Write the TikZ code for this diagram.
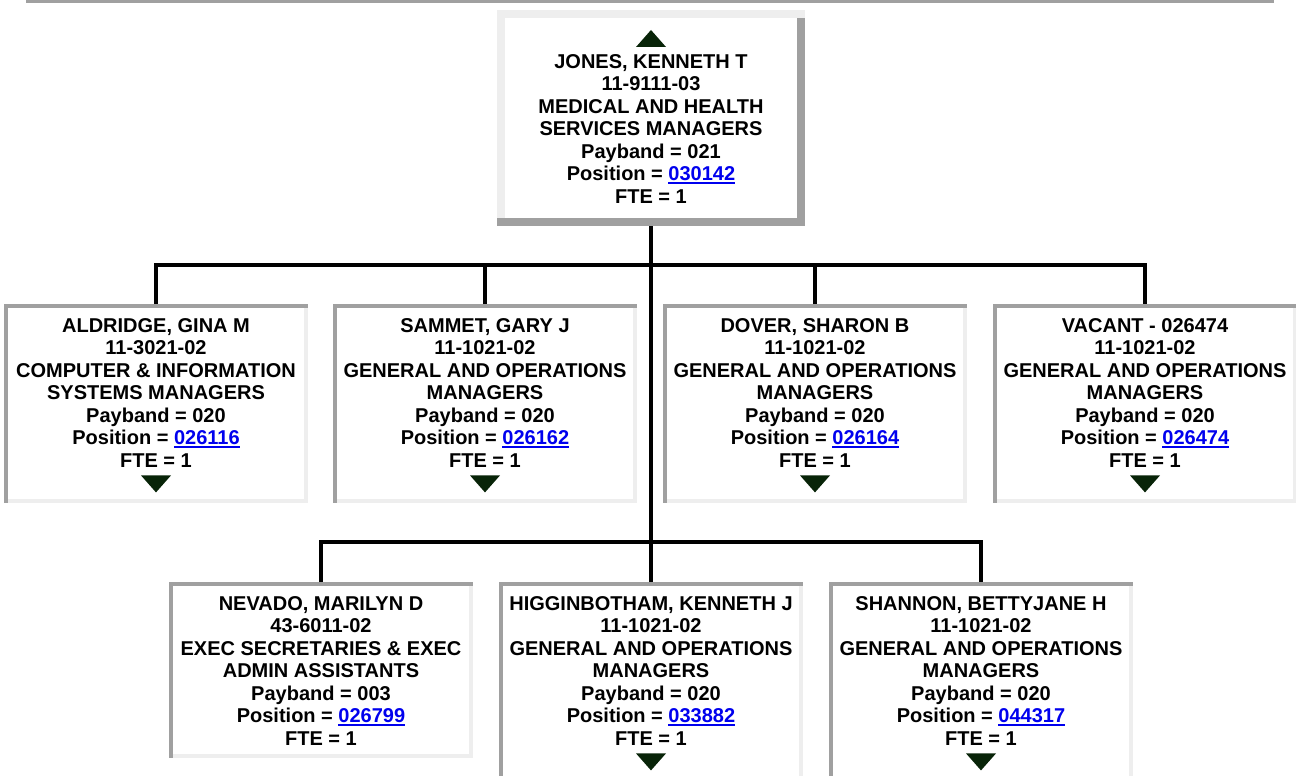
\documentclass[tikz,border=0pt]{standalone}
\usepackage{fontspec}
\setmainfont{Liberation Sans}
\usetikzlibrary{positioning}

\definecolor{edgedark}{HTML}{A0A0A0}
\definecolor{edgelight}{HTML}{EEEEEE}
\definecolor{trigreen}{RGB}{8,36,8}
\definecolor{linkblue}{HTML}{0000EE}
\newsavebox{\linkbox}
\newcommand{\poslink}[1]{\textcolor{linkblue}{\sbox{\linkbox}{#1}\rlap{\rule[-3pt]{\wd\linkbox}{1.8pt}}\usebox{\linkbox}}}

\tikzset{
  raised/.style={anchor=north, minimum width=308pt, minimum height=216pt, inner sep=0pt, fill=white,
    path picture={
      \fill[edgelight] (path picture bounding box.north west) rectangle ([xshift=8pt]path picture bounding box.south west);
      \fill[edgelight] (path picture bounding box.north west) rectangle ([yshift=-8pt]path picture bounding box.north east);
      \fill[edgedark] ([yshift=-8pt]path picture bounding box.north east) rectangle ([xshift=-8pt]path picture bounding box.south east);
      \fill[edgedark] (path picture bounding box.south west) rectangle ([yshift=8pt]path picture bounding box.south east);
    }},
  inset/.style={anchor=north, minimum width=304pt, minimum height=199pt, inner sep=0pt, fill=white,
    path picture={
      \fill[edgelight] (path picture bounding box.north east) rectangle ([xshift=-4pt]path picture bounding box.south east);
      \fill[edgelight] (path picture bounding box.south west) rectangle ([yshift=4pt]path picture bounding box.south east);
      \fill[edgedark] (path picture bounding box.north west) rectangle ([xshift=4pt]path picture bounding box.south west);
      \fill[edgedark] (path picture bounding box.north west) rectangle ([yshift=-4pt]path picture bounding box.north east);
    }},
  card/.style={font=\fontsize{20}{22.5}\selectfont\bfseries, align=center, inner sep=0pt},
  wire/.style={line width=4pt},
  tri/.style={fill=trigreen},
}

\begin{document}
\begin{tikzpicture}[x=1pt, y=-1pt]
    \path[use as bounding box, fill=white] (0,0) rectangle (1296,776);
    \fill[edgedark] (26,0) rectangle (1274,3);

    % Bus lines
    \coordinate (bus1) at (0,265);
    \coordinate (bus2) at (0,542);

    % Top box
    \node[raised] (jones) at (651,10) {};
    \node[card, below=44pt of jones.north] (jonesT) {JONES, KENNETH T\\11-9111-03\\MEDICAL AND HEALTH\\SERVICES MANAGERS\\Payband = 021\\Position = \poslink{030142}\\FTE = 1};
    \fill[tri] ([xshift=-15pt,yshift=-37pt]jones.north) -- ([xshift=15pt,yshift=-37pt]jones.north) -- ([yshift=-20pt]jones.north) -- cycle;

    % First row
    \node[inset] (aldridge) at (156,304) {};
    \node[inset] (sammet) at (485,304) {};
    \node[inset] (dover) at (815,304) {};
    \node[inset] (vacant) at (1145,304) {};
    \node[card, below=14pt of aldridge.north] (aldridgeT) {ALDRIDGE, GINA M\\11-3021-02\\COMPUTER \& INFORMATION\\SYSTEMS MANAGERS\\Payband = 020\\Position = \poslink{026116}\\FTE = 1};
    \node[card, below=14pt of sammet.north] (sammetT) {SAMMET, GARY J\\11-1021-02\\GENERAL AND OPERATIONS\\MANAGERS\\Payband = 020\\Position = \poslink{026162}\\FTE = 1};
    \node[card, below=14pt of dover.north] (doverT) {DOVER, SHARON B\\11-1021-02\\GENERAL AND OPERATIONS\\MANAGERS\\Payband = 020\\Position = \poslink{026164}\\FTE = 1};
    \node[card, below=14pt of vacant.north] (vacantT) {VACANT - 026474\\11-1021-02\\GENERAL AND OPERATIONS\\MANAGERS\\Payband = 020\\Position = \poslink{026474}\\FTE = 1};

    % Second row
    \node[inset, minimum height=176pt] (nevado) at (321,582) {};
    \node[inset] (higgin) at (651,582) {};
    \node[inset] (shannon) at (981,582) {};
    \node[card, below=14pt of nevado.north] (nevadoT) {NEVADO, MARILYN D\\43-6011-02\\EXEC SECRETARIES \& EXEC\\ADMIN ASSISTANTS\\Payband = 003\\Position = \poslink{026799}\\FTE = 1};
    \node[card, below=14pt of higgin.north] (higginT) {HIGGINBOTHAM, KENNETH J\\11-1021-02\\GENERAL AND OPERATIONS\\MANAGERS\\Payband = 020\\Position = \poslink{033882}\\FTE = 1};
    \node[card, below=14pt of shannon.north] (shannonT) {SHANNON, BETTYJANE H\\11-1021-02\\GENERAL AND OPERATIONS\\MANAGERS\\Payband = 020\\Position = \poslink{044317}\\FTE = 1};

    % Down triangles
    \foreach \b in {aldridge,sammet,dover,vacant,higgin,shannon}
        \fill[tri] ([xshift=-15pt,yshift=28pt]\b.south) -- ([xshift=15pt,yshift=28pt]\b.south) -- ([yshift=11pt]\b.south) -- cycle;

    % Connectors
    \draw[wire] (jones.south) -- (jones.south |- bus2);
    \draw[wire] (aldridge.north) -- (aldridge.north |- bus1) -- (vacant.north |- bus1) -- (vacant.north);
    \draw[wire] (sammet.north) -- (sammet.north |- bus1);
    \draw[wire] (dover.north) -- (dover.north |- bus1);
    \draw[wire] (nevado.north) -- (nevado.north |- bus2) -- (shannon.north |- bus2) -- (shannon.north);
    \draw[wire] (higgin.north) -- (higgin.north |- bus2);
\end{tikzpicture}
\end{document}
